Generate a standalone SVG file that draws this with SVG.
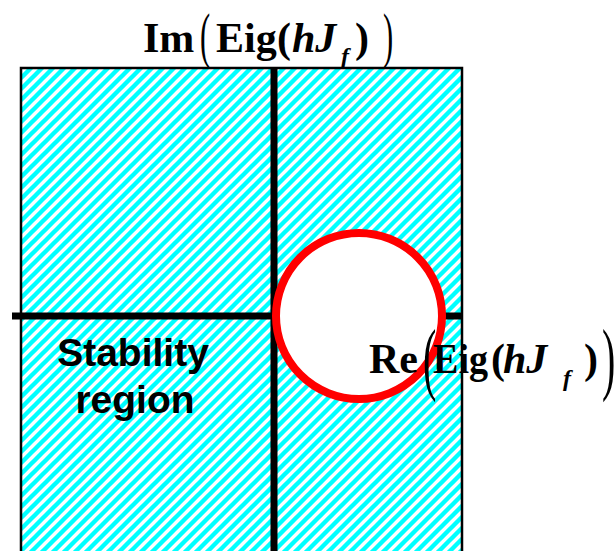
<svg xmlns="http://www.w3.org/2000/svg" width="616" height="551" viewBox="0 0 616 551">
<defs>
<pattern id="hatch" patternUnits="userSpaceOnUse" x="0" y="0" width="11" height="11">
<path d="M0,11 L11,0 M-2,2 L2,-2 M9,13 L13,9" stroke="#00FFFF" stroke-width="4.4"/>
</pattern>
</defs>
<style>
.lbl{font-family:"Liberation Serif","Times New Roman",serif;font-weight:bold;font-size:42px;fill:#000}
.it{font-style:italic}
.sub{font-family:"Liberation Serif","Times New Roman",serif;font-weight:bold;font-style:italic;font-size:24px;fill:#000}
.big{font-family:"Liberation Serif","Times New Roman",serif;font-weight:normal;fill:#000}
.axis{stroke:#000;stroke-width:7;fill:none}
.txt{font-family:"Liberation Sans",Arial,sans-serif;font-weight:bold;font-size:39px;fill:#000;text-anchor:middle}
</style>
<rect width="616" height="551" fill="#fff"/>
<g id="region">
<rect x="21" y="68" width="441" height="490" fill="url(#hatch)" stroke="#000" stroke-width="2.5"/>
</g>
<g id="connectors">
<line class="axis" x1="274" y1="68" x2="274" y2="551"/>
<line class="axis" x1="12" y1="316" x2="463" y2="316"/>
</g>
<g id="circle">
<circle cx="359" cy="316" r="83" fill="#fff" stroke="#FF0000" stroke-width="8"/>
</g>
<g id="stability-label">
<text class="txt" x="133" y="366">Stability</text>
<text class="txt" x="135" y="413">region</text>
</g>
<g id="im-label">
<text class="lbl" x="143" y="52">Im</text>
<text class="big" font-size="61" transform="translate(200,56) scale(0.5,1)">(</text>
<text class="lbl" x="216" y="52">Eig</text>
<text class="lbl" x="277" y="52">(</text>
<text class="lbl it" x="292" y="52">hJ</text>
<text class="sub" x="341" y="64">f</text>
<text class="lbl" x="355" y="52">)</text>
<text class="big" font-size="61" transform="translate(383,56) scale(0.5,1)">)</text>
</g>
<g id="re-label">
<text class="lbl" x="369" y="373">Re</text>
<text class="big" font-size="80" transform="translate(423,385) scale(0.5,1)">(</text>
<text class="lbl" x="433" y="373" textLength="55" lengthAdjust="spacingAndGlyphs">Eig</text>
<text class="lbl" x="491" y="373">(</text>
<text class="lbl it" x="503" y="373">hJ</text>
<text class="sub" x="563" y="386">f</text>
<text class="lbl" x="584" y="373">)</text>
<text class="big" font-size="80" transform="translate(602,385) scale(0.5,1)">)</text>
</g>
</svg>
